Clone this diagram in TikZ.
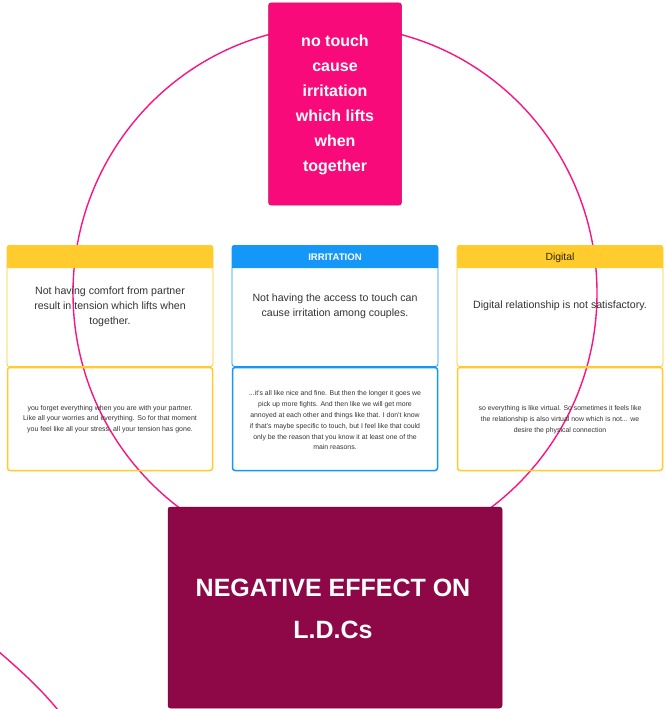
\documentclass[tikz,border=0pt]{standalone}
\usepackage{fontspec}
\setmainfont{Liberation Sans}
\definecolor{hotpink}{HTML}{F90A7B}
\definecolor{ringpink}{HTML}{FA1483}
\definecolor{maroon}{HTML}{8E0747}
\definecolor{cardyellow}{HTML}{FFCB2D}
\definecolor{cardblue}{HTML}{1597F7}
\definecolor{textgrey}{HTML}{333333}
\definecolor{headdark}{HTML}{2E2600}
\tikzset{
  ring/.style={draw=ringpink, line width=1.4pt},
  notebox/.style={rounded corners=2.5pt, draw=#1, line width=0.8pt},
  quotebox/.style={rounded corners=2.5pt, draw=#1, line width=1.5pt},
  maintext/.style={text=textgrey, align=center, inner sep=0pt,
    font=\fontsize{10.6}{15}\selectfont},
  quotetext/.style={text=textgrey, align=center, inner sep=0pt,
    font=\fontsize{7.0}{10.8}\selectfont},
  headtext/.style={inner sep=0pt, font=\fontsize{10.4}{12}\selectfont},
  bigbox/.style={rounded corners=2.5pt, inner sep=0pt}
}
\begin{document}
\begin{tikzpicture}[x=1pt,y=-1pt]
\useasboundingbox (0,0) rectangle (665,709);
\fill[white] (0,0) rectangle (665,709);

% the large ring behind everything, and the edge of a second one
\draw[ring] (335,293) ellipse[x radius=262pt, y radius=267pt];
\coordinate (arcA) at (-2,651);
\coordinate (arcB) at (58,710);
\draw[ring] (arcA) .. controls (20,670) and (40,688) .. (arcB);

% top note
\node[bigbox, fill=hotpink, draw=hotpink!80!black, line width=0.5pt,
      minimum width=133pt, minimum height=202pt] (topnote) at (335,104) {};
\node[text=white, align=center, inner sep=0pt,
      font=\bfseries\fontsize{16}{25}\selectfont] (toptext) at (335,104.5)
  {no touch\\cause\\irritation\\which lifts\\when\\together};

% ---- left card ----
\fill[cardyellow] (7,268) [rounded corners=2.5pt] -- (7,245) -- (213,245) [sharp corners] -- (213,268) -- cycle;
\node[notebox=cardyellow, minimum width=206pt, minimum height=121pt] (leftnote) at (110,306) {};
\node[quotebox=cardyellow, minimum width=205pt, minimum height=103pt] (leftquote) at (110,419) {};
\node[maintext] (lefttext) at (110,307)
  {Not having comfort from partner\\result in tension which lifts when\\together.};
\node[quotetext] (leftq) at (110,419)
  {you forget everything when you are with your partner.\\Like all your worries and everything. So for that moment\\you feel like all your stress, all your tension has gone.};

% ---- middle card ----
\fill[cardblue] (232,268) [rounded corners=2.5pt] -- (232,245) -- (438,245) [sharp corners] -- (438,268) -- cycle;
\node[notebox=cardblue, minimum width=206pt, minimum height=121pt] (midnote) at (335,306) {};
\node[quotebox=cardblue, minimum width=205pt, minimum height=103pt] (midquote) at (335,419) {};
\node[headtext, text=white, font=\bfseries\fontsize{9.6}{12}\selectfont] (midhead) at (335,257.5) {IRRITATION};
\node[maintext] (midtext) at (335,306.5)
  {Not having the access to touch can\\cause irritation among couples.};
\node[quotetext, font=\fontsize{6.9}{10.8}\selectfont] (midq) at (335,420.5)
  {...it's all like nice and fine. But then the longer it goes we\\pick up more fights. And then like we will get more\\annoyed at each other and things like that. I don't know\\if that's maybe specific to touch, but I feel like that could\\only be the reason that you know it at least one of the\\main reasons.};

% ---- right card ----
\fill[cardyellow] (457,268) [rounded corners=2.5pt] -- (457,245) -- (663,245) [sharp corners] -- (663,268) -- cycle;
\node[notebox=cardyellow, minimum width=206pt, minimum height=121pt] (rightnote) at (560,306) {};
\node[quotebox=cardyellow, minimum width=205pt, minimum height=103pt] (rightquote) at (560,419) {};
\node[headtext, text=headdark] (righthead) at (560,257.5) {Digital};
\node[maintext] (righttext) at (560,306)
  {Digital relationship is not satisfactory.};
\node[quotetext, font=\fontsize{6.9}{10.8}\selectfont] (rightq) at (560,419.5)
  {so everything is like virtual. So sometimes it feels like\\the relationship is also virtual now which is not... we\\desire the physical connection};

% bottom conclusion
\node[bigbox, fill=maroon, draw=maroon!80!black, line width=0.5pt,
      minimum width=334pt, minimum height=201pt] (result) at (335,607.5) {};
\node[text=white, align=center, inner sep=0pt,
      font=\bfseries\fontsize{25}{42}\selectfont] (resulttext) at (333,609)
  {NEGATIVE EFFECT ON\\L.D.Cs};
\end{tikzpicture}
\end{document}
